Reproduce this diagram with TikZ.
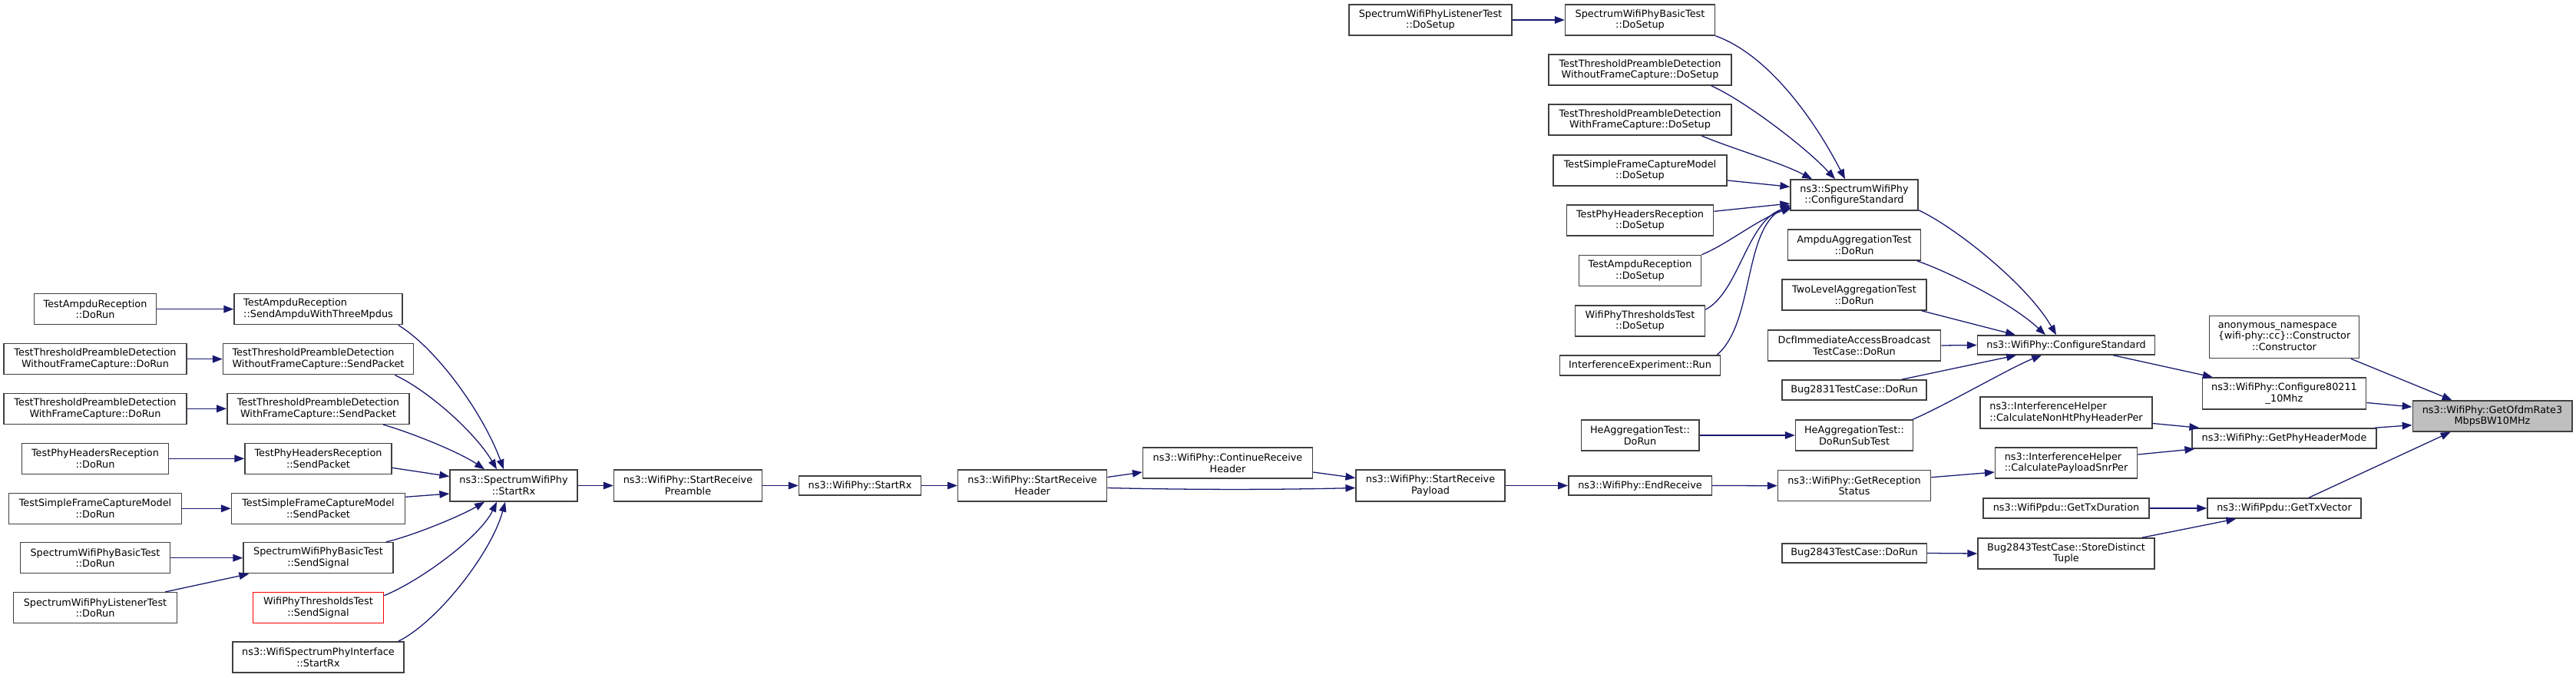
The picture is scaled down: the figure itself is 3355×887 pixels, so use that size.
\documentclass[tikz,border=0pt]{standalone}
\usepackage{fontspec}
\setmainfont{DejaVu Sans}
\usetikzlibrary{arrows.meta,calc}

\definecolor{edgeblue}{RGB}{25,25,112}
\definecolor{focusgray}{RGB}{191,191,191}

\tikzset{fnsize/.style 2 args={minimum width=#1*0.78pt, minimum height=#2*0.78pt}}

\begin{document}
\begin{tikzpicture}[
    x=0.78pt, y=-0.78pt,
    fnbox/.style={
        draw=black!75,
        line width=1.2pt,
        fill=white,
        inner sep=0pt,
        align=center,
        font=\fontsize{10}{11.5}\selectfont
    },
    call/.style={
        edgeblue,
        line width=1pt,
        -{Triangle[length=10pt,width=7.5pt]}
    }
]

\useasboundingbox (0,0) rectangle (3355,887);

% Test drivers
\node[fnbox, fnsize={159}{40}] (tarDoRun) at (124,402.7) {TestAmpduReception\\::DoRun};
\node[fnbox, fnsize={238}{40}] (ttpdWoDoRun) at (124,467.7) {TestThresholdPreambleDetection\\WithoutFrameCapture::DoRun};
\node[fnbox, fnsize={238}{40}] (ttpdWDoRun) at (124,532.3) {TestThresholdPreambleDetection\\WithFrameCapture::DoRun};
\node[fnbox, fnsize={191}{40}] (tphrDoRun) at (124,597.3) {TestPhyHeadersReception\\::DoRun};
\node[fnbox, fnsize={225}{40}] (tsfcmDoRun) at (124,662.3) {TestSimpleFrameCaptureModel\\::DoRun};
\node[fnbox, fnsize={195}{40}] (swpbtDoRun) at (124,726.7) {SpectrumWifiPhyBasicTest\\::DoRun};
\node[fnbox, fnsize={213}{40}] (swpltDoRun) at (124,791.7) {SpectrumWifiPhyListenerTest\\::DoRun};

% Senders
\node[fnbox, align=left, fnsize={219}{40}] (sendAmpdu) at (414.5,402.7) {TestAmpduReception\\::SendAmpduWithThreeMpdus};
\node[fnbox, align=left, fnsize={248}{40}] (ttpdWoSend) at (414.5,467.7) {TestThresholdPreambleDetection\\WithoutFrameCapture::SendPacket};
\node[fnbox, fnsize={237.5}{40}] (ttpdWSend) at (414.5,532.3) {TestThresholdPreambleDetection\\WithFrameCapture::SendPacket};
\node[fnbox, fnsize={191}{40}] (tphrSend) at (414.5,597.3) {TestPhyHeadersReception\\::SendPacket};
\node[fnbox, fnsize={226}{40}] (tsfcmSend) at (414.5,662.3) {TestSimpleFrameCaptureModel\\::SendPacket};
\node[fnbox, fnsize={195}{40}] (swpbtSend) at (414.5,726.7) {SpectrumWifiPhyBasicTest\\::SendSignal};
\node[fnbox, draw=red, fnsize={170}{40}] (wpttSend) at (414.5,791.7) {WifiPhyThresholdsTest\\::SendSignal};
\node[fnbox, fnsize={223}{40}] (wspiStartRx) at (414.5,856) {ns3::WifiSpectrumPhyInterface\\::StartRx};

% Reception chain
\node[fnbox, fnsize={166}{41}] (spwStartRx) at (669,632.5) {ns3::SpectrumWifiPhy\\::StartRx};
\node[fnbox, fnsize={193}{41}] (startRxPreamble) at (896,632.5) {ns3::WifiPhy::StartReceive\\Preamble};
\node[fnbox, fnsize={159}{25}] (wifiStartRx) at (1120,632.5) {ns3::WifiPhy::StartRx};
\node[fnbox, fnsize={194}{41}] (startRxHeader) at (1344.6,632.5) {ns3::WifiPhy::StartReceive\\Header};
\node[fnbox, fnsize={221}{40}] (contRxHeader) at (1599,603) {ns3::WifiPhy::ContinueReceive\\Header};
\node[fnbox, fnsize={194}{41}] (startRxPayload) at (1863,632.5) {ns3::WifiPhy::StartReceive\\Payload};
\node[fnbox, fnsize={186.5}{25}] (endReceive) at (2136,632.5) {ns3::WifiPhy::EndReceive};
\node[fnbox, fnsize={199}{40}] (getRxStatus) at (2415,632.7) {ns3::WifiPhy::GetReception\\Status};

% Setup callers
\node[fnbox, fnsize={212}{40}] (swpltDoSetup) at (1863,26) {SpectrumWifiPhyListenerTest\\::DoSetup};
\node[fnbox, fnsize={195}{40}] (swpbtDoSetup) at (2136,26) {SpectrumWifiPhyBasicTest\\::DoSetup};
\node[fnbox, fnsize={238}{40}] (ttpdWoDoSetup) at (2136,91) {TestThresholdPreambleDetection\\WithoutFrameCapture::DoSetup};
\node[fnbox, fnsize={238}{40}] (ttpdWDoSetup) at (2136,156) {TestThresholdPreambleDetection\\WithFrameCapture::DoSetup};
\node[fnbox, fnsize={226}{40}] (tsfcmDoSetup) at (2136,222) {TestSimpleFrameCaptureModel\\::DoSetup};
\node[fnbox, fnsize={191}{40}] (tphrDoSetup) at (2136,287) {TestPhyHeadersReception\\::DoSetup};
\node[fnbox, fnsize={159}{40}] (tarDoSetup) at (2136,352.5) {TestAmpduReception\\::DoSetup};
\node[fnbox, fnsize={169}{40}] (wpttDoSetup) at (2136,418) {WifiPhyThresholdsTest\\::DoSetup};
\node[fnbox, fnsize={209}{26}] (interfRun) at (2136,476) {InterferenceExperiment::Run};
\node[fnbox, fnsize={153.5}{40}] (heAggDoRun) at (2136,567) {HeAggregationTest::\\DoRun};

% Standard configuration
\node[fnbox, fnsize={166}{40}] (spwConfigStd) at (2415,254) {ns3::SpectrumWifiPhy\\::ConfigureStandard};
\node[fnbox, fnsize={173}{40}] (ampduAggDoRun) at (2415,319) {AmpduAggregationTest\\::DoRun};
\node[fnbox, fnsize={188}{40}] (twoLevelDoRun) at (2415,384) {TwoLevelAggregationTest\\::DoRun};
\node[fnbox, fnsize={225}{40}] (dcfDoRun) at (2415,450) {DcfImmediateAccessBroadcast\\TestCase::DoRun};
\node[fnbox, fnsize={188}{26}] (bug2831DoRun) at (2415,508) {Bug2831TestCase::DoRun};
\node[fnbox, fnsize={153}{40}] (heAggSubTest) at (2415,567) {HeAggregationTest::\\DoRunSubTest};
\node[fnbox, fnsize={188.5}{25}] (bug2843DoRun) at (2415,720.5) {Bug2843TestCase::DoRun};

\node[fnbox, fnsize={231}{25}] (wifiConfigStd) at (2691,449.5) {ns3::WifiPhy::ConfigureStandard};
\node[fnbox, align=left, fnsize={224}{41}] (calcNonHt) at (2691,537.5) {ns3::InterferenceHelper\\::CalculateNonHtPhyHeaderPer};
\node[fnbox, align=left, fnsize={185}{40}] (calcPayload) at (2691,603) {ns3::InterferenceHelper\\::CalculatePayloadSnrPer};
\node[fnbox, fnsize={216}{26}] (getTxDuration) at (2691,662) {ns3::WifiPpdu::GetTxDuration};
\node[fnbox, fnsize={230}{40}] (storeTuple) at (2691,721) {Bug2843TestCase::StoreDistinct\\Tuple};

\node[fnbox, fnsize={195}{55}] (anonCtor) at (2975,439)
    {\begin{tabular}{@{}l@{}}anonymous\_namespace\\\{wifi-phy::cc\}::Constructor\\\multicolumn{1}{@{}c@{}}{::Constructor}\end{tabular}};
\node[fnbox, fnsize={213}{41}] (config10Mhz) at (2975,512.5) {ns3::WifiPhy::Configure80211\\\_10Mhz};
\node[fnbox, fnsize={240}{26}] (getPhyHdrMode) at (2975,571) {ns3::WifiPhy::GetPhyHeaderMode};
\node[fnbox, fnsize={200}{26}] (getTxVector) at (2975,662) {ns3::WifiPpdu::GetTxVector};

% Function of interest
\node[fnbox, fill=focusgray, fnsize={207.5}{40}] (getOfdmRate) at (3246,542) {ns3::WifiPhy::GetOfdmRate3\\MbpsBW10MHz};

% Drivers to senders
\draw[call] (tarDoRun.east) -- (sendAmpdu.west);
\draw[call] (ttpdWoDoRun.east) -- (ttpdWoSend.west);
\draw[call] (ttpdWDoRun.east) -- (ttpdWSend.west);
\draw[call] (tphrDoRun.east) -- (tphrSend.west);
\draw[call] (tsfcmDoRun.east) -- (tsfcmSend.west);
\draw[call] (swpbtDoRun.east) -- (swpbtSend.west);
\draw[call] ($(swpltDoRun.north east)+(-16,0)$) -- ($(swpbtSend.south west)+(8,0)$);

% Senders to SpectrumWifiPhy::StartRx
\draw[call] ($(sendAmpdu.south east)+(-6,0)$) .. controls (570,455) and (630,540) .. ($(spwStartRx.north)+(-13,0)$);
\draw[call] ($(ttpdWoSend.south east)+(-25,0)$) .. controls (560,510) and (620,565) .. ($(spwStartRx.north)+(-22,0)$);
\draw[call] ($(ttpdWSend.south east)+(-35,0)$) .. controls (540,565) and (600,590) .. ($(spwStartRx.north)+(-38,0)$);
\draw[call] ($(tphrSend.east)+(0,12)$) -- ($(spwStartRx.west)+(0,-12)$);
\draw[call] ($(tsfcmSend.east)+(0,-15)$) -- ($(spwStartRx.west)+(0,10.5)$);
\draw[call] ($(swpbtSend.north east)+(-10,0)$) .. controls (540,697) and (600,672) .. ($(spwStartRx.south)+(-38,0)$);
\draw[call] ($(wpttSend.east)+(0,-16)$) .. controls (545,758) and (625,700) .. ($(spwStartRx.south)+(-22,0)$);
\draw[call] ($(wspiStartRx.north east)+(-8,0)$) .. controls (570,810) and (640,720) .. ($(spwStartRx.south)+(-11,0)$);

% Reception chain
\draw[call] (spwStartRx.east) -- (startRxPreamble.west);
\draw[call] (startRxPreamble.east) -- (wifiStartRx.west);
\draw[call] (wifiStartRx.east) -- (startRxHeader.west);
\draw[call] ($(startRxHeader.east)+(0,-11)$) -- ($(contRxHeader.west)+(0,12)$);
\draw[call] ($(contRxHeader.east)+(0,12)$) -- ($(startRxPayload.west)+(0,-10)$);
\draw[call] ($(startRxHeader.east)+(0,3)$) .. controls (1550,638) and (1660,638) .. ($(startRxPayload.west)+(0,3)$);
\draw[call] (startRxPayload.east) -- (endReceive.west);
\draw[call] (endReceive.east) -- (getRxStatus.west);
\draw[call] ($(getRxStatus.east)+(0,-11)$) -- ($(calcPayload.west)+(0,12)$);
\draw[call] ($(calcPayload.east)+(0,-11)$) -- ($(getPhyHdrMode.south west)+(4,0)$);
\draw[call] ($(calcNonHt.east)+(0,14)$) -- ($(getPhyHdrMode.north west)+(10,0)$);
\draw[call] ($(getPhyHdrMode.north east)+(-3,0)$) -- ($(getOfdmRate.west)+(0,11.7)$);

% Setup callers to SpectrumWifiPhy::ConfigureStandard
\draw[call] (swpltDoSetup.east) -- (swpbtDoSetup.west);
\draw[call] (swpbtDoSetup.south east) .. controls (2300,70) and (2360,150) .. ($(spwConfigStd.north)+(-12,0)$);
\draw[call] ($(ttpdWoDoSetup.south east)+(-27,0)$) .. controls (2270,130) and (2350,190) .. ($(spwConfigStd.north)+(-25,0)$);
\draw[call] ($(ttpdWDoSetup.south east)+(-40,0)$) .. controls (2260,195) and (2320,212) .. ($(spwConfigStd.north)+(-55,0)$);
\draw[call] ($(tsfcmDoSetup.east)+(0,13)$) -- ($(spwConfigStd.west)+(0,-10.7)$);
\draw[call] ($(tphrDoSetup.east)+(0,-11.7)$) -- ($(spwConfigStd.west)+(0,11)$);
\draw[call] (tarDoSetup.north east) .. controls (2250,318) and (2290,285) .. ($(spwConfigStd.south west)+(2,-4)$);
\draw[call] ($(wpttDoSetup.east)+(0,-14.7)$) .. controls (2265,380) and (2275,288) .. ($(spwConfigStd.south west)+(1,-6)$);
\draw[call] ($(interfRun.north east)+(-5,0)$) .. controls (2285,420) and (2270,300) .. ($(spwConfigStd.south west)+(0,-8)$);

% Callers of WifiPhy::ConfigureStandard
\draw[call] ($(spwConfigStd.south east)+(0,-1)$) .. controls (2545,295) and (2640,370) .. ($(wifiConfigStd.north)+(-13,0)$);
\draw[call] ($(ampduAggDoRun.south east)+(-5.5,0)$) .. controls (2540,355) and (2620,395) .. ($(wifiConfigStd.north)+(-27,0)$);
\draw[call] ($(twoLevelDoRun.south east)+(-7,0)$) -- ($(wifiConfigStd.north)+(-66,0)$);
\draw[call] (dcfDoRun.east) -- (wifiConfigStd.west);
\draw[call] ($(bug2831DoRun.north east)+(-33,0)$) -- ($(wifiConfigStd.south)+(-65,0)$);
\draw[call] ($(heAggSubTest.north east)+(-1,0)$) .. controls (2530,530) and (2620,478) .. ($(wifiConfigStd.south)+(-32,0)$);
\draw[call] (heAggDoRun.east) -- (heAggSubTest.west);

% Into GetOfdmRate3MbpsBW10MHz
\draw[call] ($(wifiConfigStd.south east)+(-55,0)$) -- ($(config10Mhz.north west)+(14,0)$);
\draw[call] ($(config10Mhz.east)+(0,12)$) -- ($(getOfdmRate.west)+(0,-12)$);
\draw[call] ($(anonCtor.south east)+(-11.5,0)$) -- ($(getOfdmRate.north west)+(52,0)$);
\draw[call] (getTxDuration.east) -- (getTxVector.west);
\draw[call] (bug2843DoRun.east) -- (storeTuple.west);
\draw[call] ($(storeTuple.north east)+(-17,0)$) -- ($(getTxVector.south west)+(38,0)$);
\draw[call] ($(getTxVector.north)+(32,0)$) -- ($(getOfdmRate.south west)+(50,0)$);

\end{tikzpicture}
\end{document}
